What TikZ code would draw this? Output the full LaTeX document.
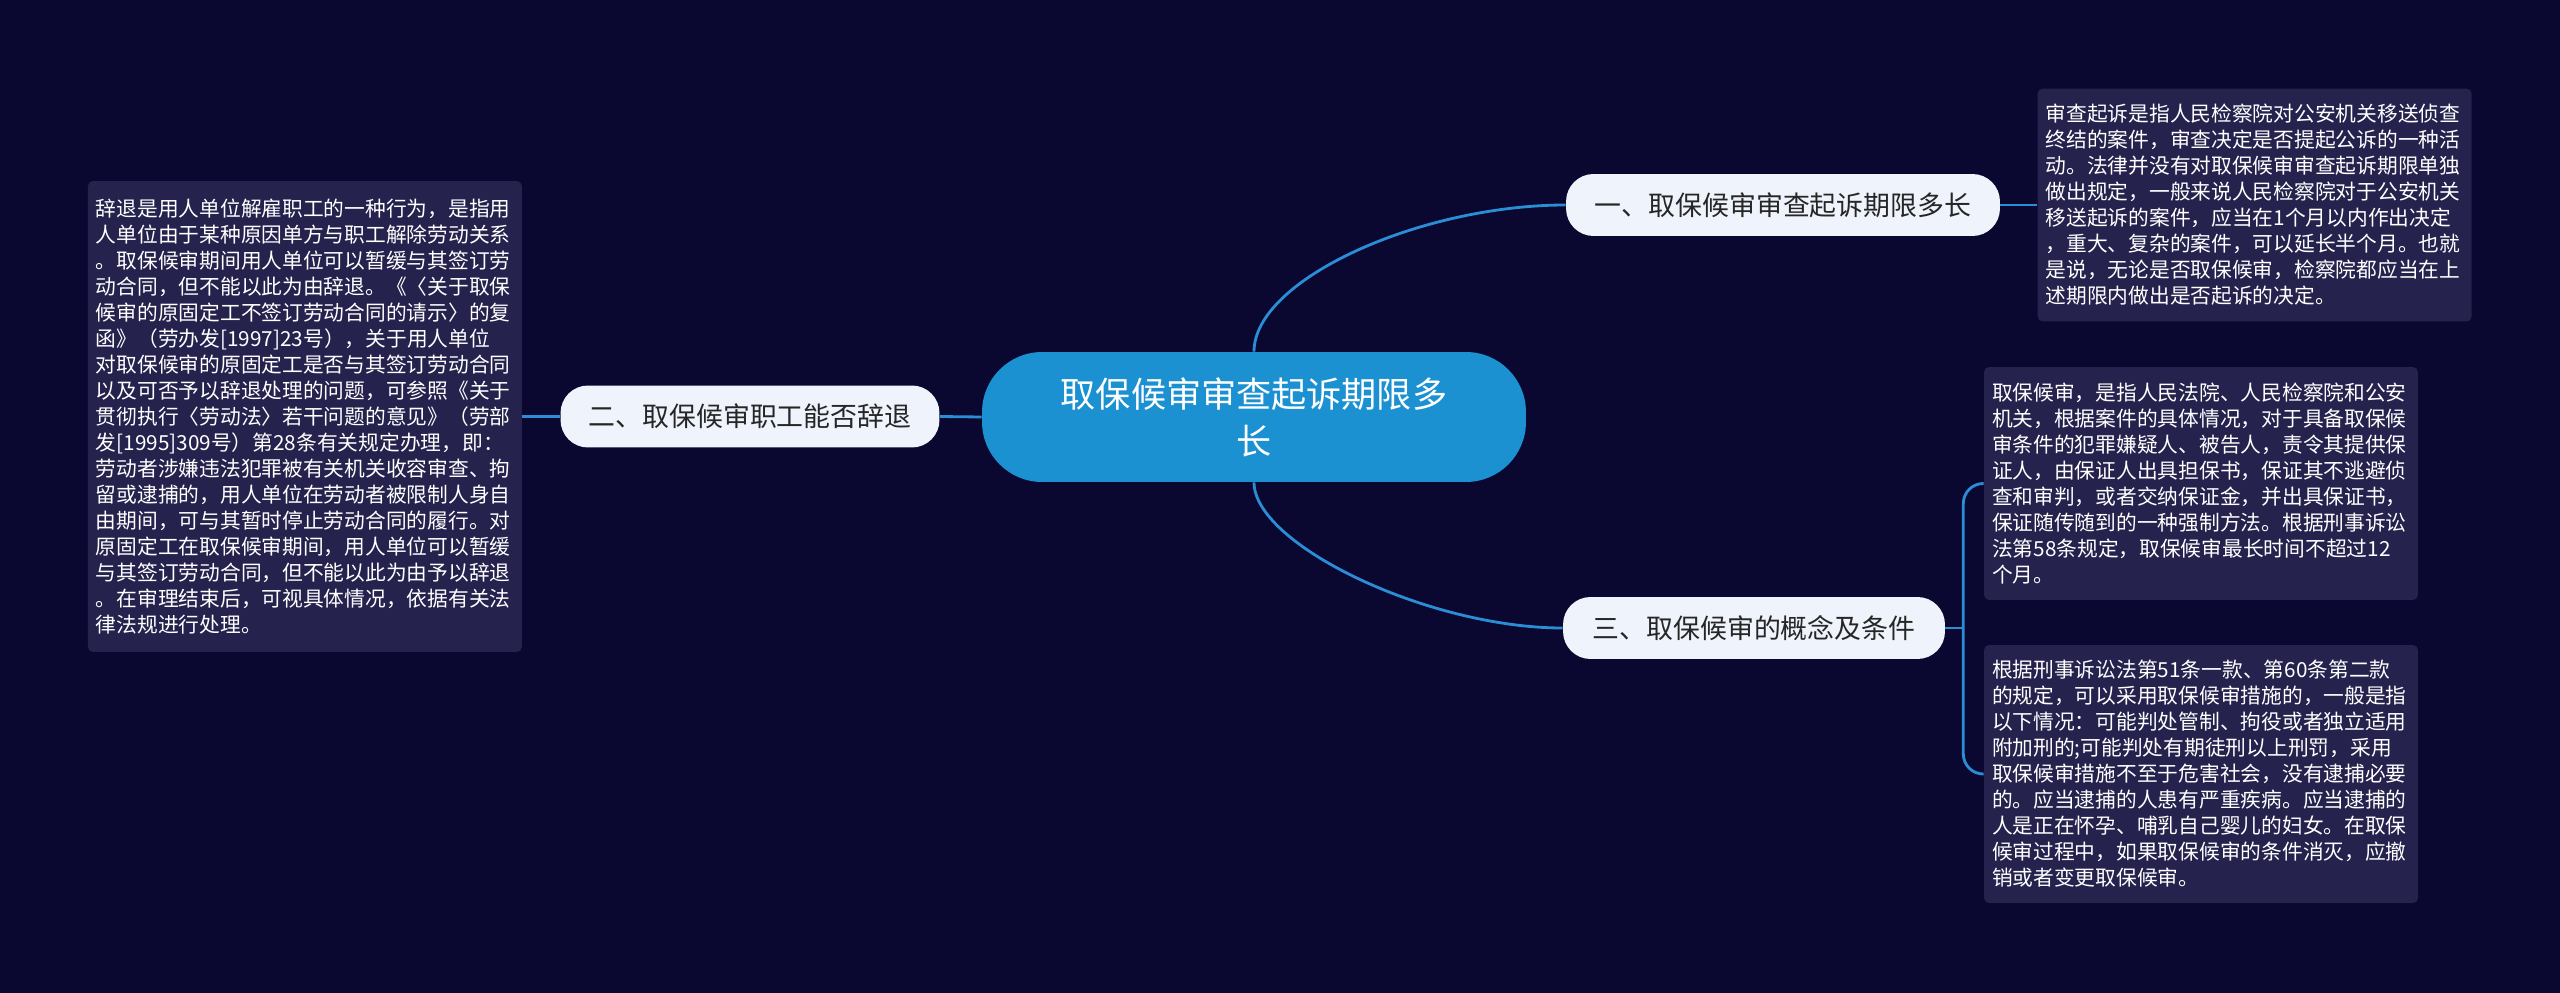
\documentclass[tikz,border=0pt]{standalone}
\usepackage{fontspec}
\setmainfont{Noto Sans CJK SC}
\usepackage{xcolor}
\usetikzlibrary{positioning,calc}

\definecolor{bgnavy}{HTML}{0A0830}
\definecolor{rootblue}{HTML}{1B91D2}
\definecolor{linkblue}{HTML}{2A8DD6}
\definecolor{topicfill}{HTML}{EEF3FC}
\definecolor{notefill}{HTML}{25224D}

\begin{document}
\begin{tikzpicture}[x=0.02cm,y=-0.02cm,
  root/.style={fill=rootblue,rounded corners=1.2cm,minimum width=10.88cm,minimum height=2.6cm,text=white,align=center,font=\fontsize{20pt}{26.7pt}\selectfont},
  topic/.style={fill=topicfill,rounded corners=0.55cm,minimum height=1.24cm,text=black!85,font=\fontsize{15.3pt}{18pt}\selectfont},
  note/.style={fill=notefill,rounded corners=0.1cm,text=white,text width=8.36cm,inner xsep=0.16cm,align=left,font=\fontsize{11.8pt}{14.8pt}\selectfont},
  link/.style={draw=linkblue,line width=1.6pt}]
\fill[bgnavy] (0,0) rectangle (2560,993);
% centre and main branches
\node[root] (cen) at (1254,417) {取保候审审查起诉期限多\\长};
\node[topic,minimum width=8.68cm] (n1) at (1783,205) {一、取保候审审查起诉期限多长};
\node[topic,minimum width=7.58cm] (n2) at (750,416.5) {二、取保候审职工能否辞退};
\node[topic,minimum width=7.64cm] (n3) at (1754,628) {三、取保候审的概念及条件};
% notes
\node[note,minimum height=4.66cm,right=0.74cm of n1] (b1) {审查起诉是指人民检察院对公安机关移送侦查\\终结的案件，审查决定是否提起公诉的一种活\\动。法律并没有对取保候审审查起诉期限单独\\做出规定，一般来说人民检察院对于公安机关\\移送起诉的案件，应当在1个月以内作出决定\\，重大、复杂的案件，可以延长半个月。也就\\是说，无论是否取保候审，检察院都应当在上\\述期限内做出是否起诉的决定。};
\node[note,minimum height=9.42cm,left=0.76cm of n2] (b2) {辞退是用人单位解雇职工的一种行为，是指用\\人单位由于某种原因单方与职工解除劳动关系\\。取保候审期间用人单位可以暂缓与其签订劳\\动合同，但不能以此为由辞退。《〈关于取保\\候审的原固定工不签订劳动合同的请示〉的复\\函》（劳办发[1997]23号），关于用人单位\\对取保候审的原固定工是否与其签订劳动合同\\以及可否予以辞退处理的问题，可参照《关于\\贯彻执行〈劳动法〉若干问题的意见》（劳部\\发[1995]309号）第28条有关规定办理，即：\\劳动者涉嫌违法犯罪被有关机关收容审查、拘\\留或逮捕的，用人单位在劳动者被限制人身自\\由期间，可与其暂时停止劳动合同的履行。对\\原固定工在取保候审期间，用人单位可以暂缓\\与其签订劳动合同，但不能以此为由予以辞退\\。在审理结束后，可视具体情况，依据有关法\\律法规进行处理。};
\node[note,minimum height=4.66cm] (b3) at (2201,483.5) {取保候审，是指人民法院、人民检察院和公安\\机关，根据案件的具体情况，对于具备取保候\\审条件的犯罪嫌疑人、被告人，责令其提供保\\证人，由保证人出具担保书，保证其不逃避侦\\查和审判，或者交纳保证金，并出具保证书，\\保证随传随到的一种强制方法。根据刑事诉讼\\法第58条规定，取保候审最长时间不超过12\\个月。};
\node[note,minimum height=5.16cm] (b4) at (2201,774) {根据刑事诉讼法第51条一款、第60条第二款\\的规定，可以采用取保候审措施的，一般是指\\以下情况：可能判处管制、拘役或者独立适用\\附加刑的;可能判处有期徒刑以上刑罚，采用\\取保候审措施不至于危害社会，没有逮捕必要\\的。应当逮捕的人患有严重疾病。应当逮捕的\\人是正在怀孕、哺乳自己婴儿的妇女。在取保\\候审过程中，如果取保候审的条件消灭，应撤\\销或者变更取保候审。};
% links
\draw[link] (cen.north) .. controls +(0,-72) and +(-146,0) .. (n1.west);
\draw[link] (cen.south) .. controls +(0,62) and +(-135,0) .. (n3.west);
\draw[link] (cen.west) -- (n2.east);
\draw[link] (n1.east) -- (b1.west);
\draw[link] (n2.west) -- (b2.east);
\coordinate (fork) at ($(n3.east)+(18,0)$);
\draw[link] (n3.east) -- (fork);
\draw[link,rounded corners=0.4cm] (fork) |- (b3.west);
\draw[link,rounded corners=0.4cm] (fork) |- (b4.west);
\end{tikzpicture}
\end{document}
